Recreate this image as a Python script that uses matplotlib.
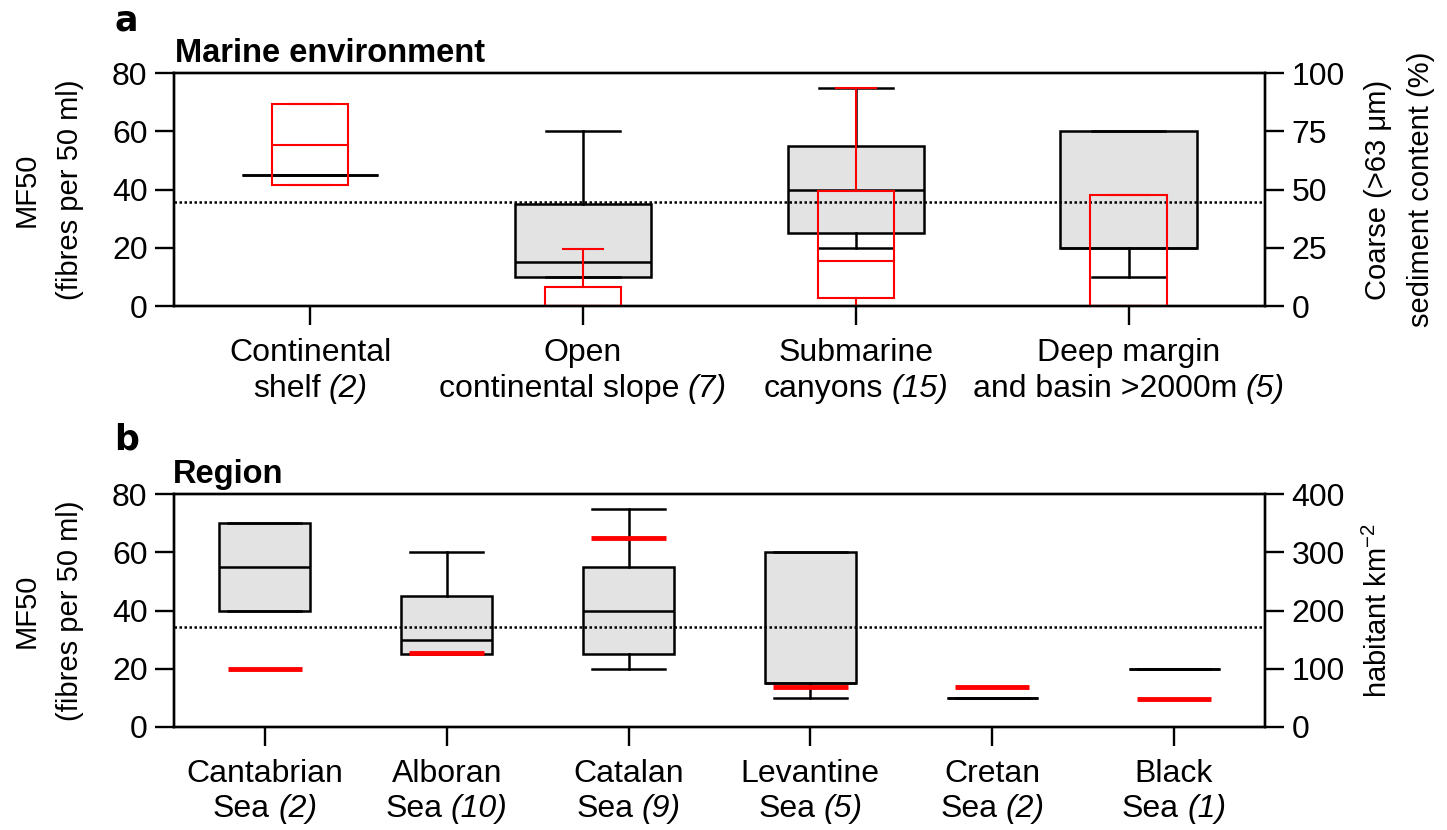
import matplotlib
matplotlib.use('Agg')
import matplotlib.pyplot as plt
from matplotlib.offsetbox import TextArea, HPacker, VPacker, AnnotationBbox

plt.rcParams['font.family'] = ['Liberation Sans', 'DejaVu Sans']
plt.rcParams['mathtext.fontset'] = 'custom'
plt.rcParams['mathtext.rm'] = 'Liberation Sans'

# panel a - marine environment
env_line1 = ['Continental', 'Open', 'Submarine', 'Deep margin']
env_line2 = ['shelf', 'continental slope', 'canyons', 'and basin >2000m']
env_n = ['(2)', '(7)', '(15)', '(5)']
# MF50 (fibres per 50 ml): whislo, q1, med, q3, whishi
env_mf_lo = [45, 10, 20, 10]
env_mf_q1 = [45, 10, 25, 20]
env_mf_med = [45, 15, 40, 20]
env_mf_q3 = [45, 35, 55, 60]
env_mf_hi = [45, 60, 75, 60]
# coarse sediment content (%)
env_cs_lo = [51.8, 0, 0, 0]
env_cs_q1 = [51.8, 0, 3.6, 0]
env_cs_med = [69.1, 0, 19.5, 0]
env_cs_q3 = [86.6, 8.3, 49.4, 47.5]
env_cs_hi = [86.6, 24.5, 93.7, 47.5]
env_mean = 35.8

# panel b - region
reg_line1 = ['Cantabrian', 'Alboran', 'Catalan', 'Levantine', 'Cretan', 'Black']
reg_line2 = ['Sea', 'Sea', 'Sea', 'Sea', 'Sea', 'Sea']
reg_n = ['(2)', '(10)', '(9)', '(5)', '(2)', '(1)']
reg_mf_lo = [40, 25, 20, 10, 10, 20]
reg_mf_q1 = [40, 25, 25, 15, 10, 20]
reg_mf_med = [55, 30, 40, 15, 10, 20]
reg_mf_q3 = [70, 45, 55, 60, 10, 20]
reg_mf_hi = [70, 60, 75, 60, 10, 20]
# population density (habitant km-2)
reg_pop = [100, 127, 325, 68, 68, 48]
reg_mean = 34.5

FS = 23
RED = '#ff0000'


def stats(lo, q1, med, q3, hi):
    return [dict(whislo=a, q1=b, med=c, q3=d, whishi=e, fliers=[])
            for a, b, c, d, e in zip(lo, q1, med, q3, hi)]


def style_axes(ax, ax2, n):
    for a in (ax, ax2):
        for s in a.spines.values():
            s.set_linewidth(1.7)
    ax.set_xlim(-0.5, n - 0.5)
    ax.set_xticks(range(n))
    ax.set_xticklabels([])
    ax.tick_params(axis='both', direction='out', length=14, width=1.7,
                   labelsize=FS, pad=5)
    ax2.tick_params(axis='y', direction='out', length=14, width=1.7,
                    labelsize=FS, pad=5)


def category_labels(ax, line1, line2, nums):
    # two line labels, sample count in italics
    for i, (a, b, c) in enumerate(zip(line1, line2, nums)):
        top = TextArea(a, textprops=dict(fontsize=FS))
        bottom = HPacker(children=[TextArea(b, textprops=dict(fontsize=FS)),
                                   TextArea(c, textprops=dict(fontsize=FS, style='italic'))],
                         pad=0, sep=6, align='baseline')
        box = VPacker(children=[top, bottom], align='center', pad=0, sep=4)
        ab = AnnotationBbox(box, (i, 0), xycoords=('data', 'axes fraction'),
                            xybox=(0, -23), boxcoords='offset points',
                            box_alignment=(0.5, 1), frameon=False,
                            annotation_clip=False)
        ax.add_artist(ab)


fig = plt.figure(figsize=(14.47, 8.30), dpi=100)
axa = fig.add_axes([0.1202, 0.6313, 0.7540, 0.2807])
axb = fig.add_axes([0.1202, 0.1241, 0.7540, 0.2807])

black = dict(color='black', linewidth=1.8)
red = dict(color=RED, linewidth=1.5)

# ---- panel a
pos_a = list(range(len(env_line1)))
axa.bxp(stats(env_mf_lo, env_mf_q1, env_mf_med, env_mf_q3, env_mf_hi),
        positions=pos_a, widths=0.5, capwidths=0.27, patch_artist=True,
        showfliers=False, manage_ticks=False,
        boxprops=dict(facecolor='#e3e3e3', edgecolor='black', linewidth=1.8),
        medianprops=black, whiskerprops=black, capprops=black)
axa.axhline(env_mean, color='black', linestyle=(0, (1, 1)), linewidth=1.8, zorder=3)
axa.set_ylim(0, 80)
axa.set_yticks([0, 20, 40, 60, 80])
axa.set_ylabel('MF50\n(fibres per 50 ml)', fontsize=21, labelpad=20, linespacing=1.7)

axa2 = axa.twinx()
axa2.bxp(stats(env_cs_lo, env_cs_q1, env_cs_med, env_cs_q3, env_cs_hi),
         positions=pos_a, widths=0.28, capwidths=0.147, patch_artist=True,
         showfliers=False, manage_ticks=False,
         boxprops=dict(facecolor='none', edgecolor=RED, linewidth=1.5),
         medianprops=red, whiskerprops=red, capprops=red)
axa2.set_ylim(0, 100)
axa2.set_yticks([0, 25, 50, 75, 100])
axa2.set_ylabel('Coarse (>63 \u03bcm)\nsediment content (%)', fontsize=21,
                labelpad=14, linespacing=1.7)
style_axes(axa, axa2, len(env_line1))
category_labels(axa, env_line1, env_line2, env_n)

fig.text(0.1209, 0.925, 'Marine environment', fontsize=23.5, fontweight='bold',
         ha='left', va='baseline')
fig.text(0.079, 0.963, 'a', fontsize=25, fontweight='heavy',
         family='DejaVu Sans', ha='left', va='baseline')

# ---- panel b
pos_b = list(range(len(reg_line1)))
axb.bxp(stats(reg_mf_lo, reg_mf_q1, reg_mf_med, reg_mf_q3, reg_mf_hi),
        positions=pos_b, widths=0.5, capwidths=0.4, patch_artist=True,
        showfliers=False, manage_ticks=False,
        boxprops=dict(facecolor='#e3e3e3', edgecolor='black', linewidth=1.8),
        medianprops=black, whiskerprops=black, capprops=black)
axb.axhline(reg_mean, color='black', linestyle=(0, (1, 1)), linewidth=1.8, zorder=3)
axb.set_ylim(0, 80)
axb.set_yticks([0, 20, 40, 60, 80])
axb.set_ylabel('MF50\n(fibres per 50 ml)', fontsize=21, labelpad=20, linespacing=1.7)

axb2 = axb.twinx()
axb2.hlines(reg_pop, [p - 0.205 for p in pos_b], [p + 0.205 for p in pos_b],
            color=RED, linewidth=3.5)
axb2.set_ylim(0, 400)
axb2.set_yticks([0, 100, 200, 300, 400])
axb2.set_ylabel('habitant km$^{-2}$', fontsize=21, labelpad=14)
style_axes(axb, axb2, len(reg_line1))
category_labels(axb, reg_line1, reg_line2, reg_n)

fig.text(0.1195, 0.418, 'Region', fontsize=23.5, fontweight='bold',
         ha='left', va='baseline')
fig.text(0.079, 0.458, 'b', fontsize=25, fontweight='heavy',
         family='DejaVu Sans', ha='left', va='baseline')

fig.savefig('out.png', dpi=100)
